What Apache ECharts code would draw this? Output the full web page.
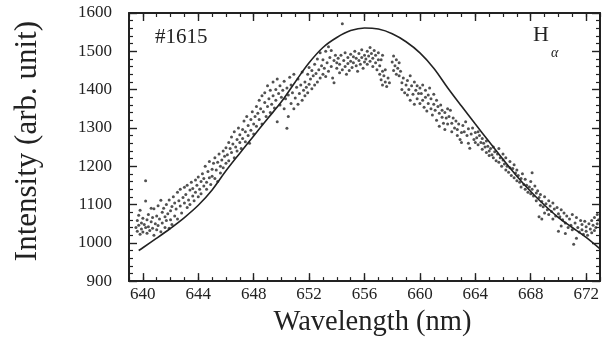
<!DOCTYPE html>
<html><head><meta charset="utf-8">
<script src="https://cdn.jsdelivr.net/npm/echarts@6/dist/echarts.min.js"></script>
<style>html,body{margin:0;padding:0;background:#fff}#c{width:612px;height:342px}</style>
</head><body><div id="c"></div>
<script>
const xTickValues = [640, 644, 648, 652, 656, 660, 664, 668, 672];
const xRange = [639, 673];
const yRange = [900, 1600];
const yStep = 100;
const labelShot = '#1615';
const labelLine = 'H';
const labelSub = 'α';

const curveWavelength = [639.7, 640, 641, 642, 643, 644, 645, 646, 647, 648, 649, 650, 651, 652, 653, 654, 655, 656, 657, 658, 659, 660, 661, 662, 663, 664, 665, 666, 667, 668, 669, 670, 671, 672, 673];
const curveIntensity  = [980, 987, 1012, 1038, 1066, 1098, 1138, 1188, 1234, 1279, 1324, 1368, 1420, 1470, 1510, 1536, 1554, 1561, 1558, 1546, 1525, 1496, 1456, 1405, 1357, 1310, 1264, 1218, 1174, 1134, 1098, 1066, 1040, 1014, 984];

const measured = [
[639.5,1040],[639.6,1058],[639.6,1030],[639.7,1072],[639.7,1046],[639.8,1022],[639.8,1085],[639.9,1052],[639.9,1036],[640.0,1064],[640.0,1028],[640.1,1048],[640.2,1162],[640.2,1109],[640.2,1040],[640.3,1060],[640.3,1025],[640.4,1074],[640.4,1042],[640.5,1032],[640.6,1055],[640.6,1090],[640.7,1038],[640.7,1066],[640.8,1089],[640.8,1020],[640.9,1050],[641.0,1070],[641.0,1034],
[641.1,1097],[641.1,1045],[641.2,1062],[641.3,1111],[641.3,1029],[641.4,1080],[641.4,1052],[641.5,1090],[641.6,1040],[641.6,1068],[641.7,1100],[641.7,1058],[641.8,1076],[641.9,1038],[641.9,1112],[642.0,1084],[642.0,1060],
[642.1,1095],[642.1,1048],[642.2,1120],[642.3,1070],[642.3,1104],[642.4,1088],[642.5,1132],[642.5,1062],[642.6,1110],[642.7,1096],[642.7,1140],[642.8,1078],[642.9,1118],[643.0,1104],[643.0,1145],
[643.1,1126],[643.2,1092],[643.2,1150],[643.3,1112],[643.4,1138],[643.4,1100],[643.5,1158],[643.6,1122],[643.6,1142],[643.7,1110],[643.8,1164],[643.8,1132],[643.9,1150],[644.0,1120],[644.0,1172],
[644.1,1140],[644.2,1160],[644.2,1128],[644.3,1180],[644.4,1148],[644.4,1168],[644.5,1200],[644.6,1158],[644.6,1140],[644.7,1186],[644.8,1170],[644.8,1212],[644.9,1152],[645.0,1192],[645.0,1174],
[645.1,1208],[645.2,1168],[645.2,1222],[645.3,1190],[645.4,1160],[645.4,1210],[645.5,1232],[645.6,1182],[645.6,1200],[645.7,1216],[645.8,1240],[645.8,1196],[645.9,1226],[646.0,1208],[646.0,1248],
[646.1,1230],[646.2,1262],[646.2,1214],[646.3,1246],[646.4,1276],[646.4,1236],[646.5,1258],[646.6,1222],[646.6,1290],[646.7,1250],[646.8,1270],[646.8,1240],[646.9,1300],[647.0,1262],[647.0,1282],
[647.1,1246],[647.2,1296],[647.2,1272],[647.3,1318],[647.4,1264],[647.4,1290],[647.5,1330],[647.6,1280],[647.6,1306],[647.7,1260],[647.8,1322],[647.8,1294],[647.9,1342],[648.0,1310],[648.0,1284],
[648.1,1330],[648.2,1356],[648.2,1304],[648.3,1338],[648.4,1372],[648.4,1322],[648.5,1350],[648.6,1384],[648.6,1310],[648.7,1342],[648.8,1366],[648.8,1392],[648.9,1330],[649.0,1356],[649.0,1410],
[649.1,1376],[649.2,1340],[649.2,1398],[649.3,1362],[649.4,1420],[649.4,1384],[649.5,1352],[649.6,1400],[649.6,1372],[649.7,1316],[649.7,1428],[649.8,1390],[649.9,1360],[649.9,1410],[650.0,1380],
[650.1,1398],[650.2,1350],[650.2,1422],[650.3,1376],[650.4,1299],[650.4,1404],[650.5,1330],[650.5,1386],[650.6,1432],[650.7,1364],[650.7,1412],[650.8,1392],[650.9,1350],[650.9,1440],[651.0,1378],
[651.1,1406],[651.2,1362],[651.2,1428],[651.3,1390],[651.4,1412],[651.5,1372],[651.5,1446],[651.6,1398],[651.7,1420],[651.7,1384],[651.8,1406],[651.9,1440],[651.9,1392],[652.0,1414],[652.0,1458],
[652.1,1428],[652.2,1402],[652.2,1450],[652.3,1436],[652.4,1412],[652.4,1466],[652.5,1442],[652.6,1420],[652.6,1480],[652.7,1452],[652.8,1430],[652.8,1496],[652.9,1462],[653.0,1440],[653.0,1478],
[653.1,1456],[653.2,1500],[653.2,1434],[653.3,1470],[653.4,1512],[653.4,1448],[653.5,1484],[653.6,1460],[653.6,1502],[653.7,1430],[653.8,1476],[653.8,1418],[653.9,1490],[654.0,1456],[654.0,1470],
[654.1,1482],[654.2,1444],[654.2,1466],[654.3,1490],[654.4,1572],[654.4,1452],[654.5,1476],[654.6,1496],[654.6,1460],[654.7,1440],[654.8,1484],[654.8,1468],[654.9,1450],[655.0,1492],[655.0,1474],
[655.1,1458],[655.2,1486],[655.2,1470],[655.3,1500],[655.4,1462],[655.4,1482],[655.5,1448],[655.6,1494],[655.6,1476],[655.7,1466],[655.8,1504],[655.8,1484],[655.9,1456],[656.0,1490],[656.0,1472],
[656.1,1480],[656.2,1500],[656.2,1466],[656.3,1488],[656.4,1510],[656.4,1474],[656.5,1494],[656.6,1460],[656.6,1482],[656.7,1502],[656.8,1470],[656.8,1490],[656.9,1452],[657.0,1478],[657.0,1496],
[657.1,1440],[657.1,1462],[657.2,1426],[657.2,1478],[657.3,1448],[657.3,1490],[657.3,1412],[657.4,1436],[657.5,1420],[657.5,1452],[657.6,1408],[657.7,1430],[657.8,1418],
[658.0,1472],[658.1,1488],[658.1,1450],[658.2,1462],[658.3,1478],[658.3,1440],[658.4,1456],[658.5,1470],[658.5,1436],[658.6,1448],[658.7,1418],[658.7,1400],[658.8,1430],[658.9,1392],[659.0,1412],
[659.1,1386],[659.1,1424],[659.2,1400],[659.3,1372],[659.3,1436],[659.4,1410],[659.5,1388],[659.6,1362],[659.6,1420],[659.7,1398],[659.8,1376],[659.8,1410],[659.9,1390],[660.0,1404],[660.0,1364],
[660.1,1390],[660.2,1372],[660.2,1412],[660.3,1354],[660.4,1398],[660.4,1380],[660.5,1344],[660.6,1386],[660.6,1364],[660.7,1404],[660.8,1350],[660.8,1376],[660.9,1334],[661.0,1362],[661.0,1388],
[661.1,1346],[661.2,1372],[661.2,1320],[661.3,1356],[661.4,1338],[661.4,1304],[661.5,1360],[661.6,1328],[661.6,1346],[661.7,1312],[661.8,1340],[661.8,1296],[661.9,1326],[662.0,1350],[662.0,1310],
[662.1,1330],[662.2,1346],[662.3,1312],[662.3,1290],[662.4,1326],[662.5,1300],[662.6,1318],[662.7,1280],[662.7,1296],[662.8,1310],[662.9,1270],[663.0,1288],[663.0,1262],
[663.1,1306],[663.2,1290],[663.3,1316],[663.4,1280],[663.5,1260],[663.5,1298],[663.6,1247],[663.7,1284],[663.8,1300],[663.9,1270],[664.0,1288],[664.0,1262],
[664.1,1274],[664.2,1290],[664.2,1256],[664.3,1280],[664.4,1262],[664.5,1272],[664.5,1244],[664.6,1260],[664.7,1250],[664.8,1266],[664.8,1236],[664.9,1252],[665.0,1240],[665.0,1228],
[665.1,1246],[665.2,1230],[665.3,1250],[665.3,1222],[665.4,1238],[665.5,1214],[665.6,1232],[665.7,1210],[665.7,1246],[665.8,1222],[665.9,1200],[666.0,1216],[666.0,1232],
[666.1,1206],[666.2,1190],[666.2,1222],[666.3,1200],[666.4,1184],[666.5,1212],[666.5,1196],[666.6,1176],[666.7,1194],[666.8,1170],[666.8,1204],[666.9,1182],[667.0,1162],[667.0,1190],
[667.1,1176],[667.2,1158],[667.3,1168],[667.3,1146],[667.4,1180],[667.5,1152],[667.6,1140],[667.6,1166],[667.7,1150],[667.8,1132],[667.9,1146],[668.0,1160],[668.0,1128],
[668.1,1183],[668.1,1140],[668.2,1122],[668.3,1148],[668.4,1130],[668.4,1110],[668.5,1136],[668.6,1118],[668.6,1068],[668.7,1098],[668.7,1126],[668.8,1108],[668.8,1062],[668.9,1094],[669.0,1120],[669.0,1078],
[669.1,1102],[669.2,1086],[669.3,1110],[669.3,1074],[669.4,1096],[669.5,1082],[669.6,1062],[669.6,1104],[669.7,1088],[669.8,1070],[669.9,1092],[670.0,1076],[670.0,1030],
[670.1,1068],[670.2,1086],[670.2,1044],[670.3,1060],[670.4,1078],[670.5,1024],[670.5,1052],[670.6,1070],[670.7,1040],[670.8,1062],[670.9,1046],[671.0,1074],[671.0,1034],
[671.1,996],[671.2,1052],[671.3,1012],[671.3,1066],[671.4,1040],[671.5,1028],[671.6,1058],[671.7,1034],[671.7,1048],[671.8,1022],[671.9,1056],[672.0,1030],[672.0,1042],
[672.1,1020],[672.2,1050],[672.3,1036],[672.4,1058],[672.4,1026],[672.5,1046],[672.6,1066],[672.6,1032],[672.7,1040],[672.8,1074],[672.8,1050],[672.9,1060]
];

const font = '"Liberation Serif", "Times New Roman", serif';
const ink = '#222';
const frame = { show: true, onZero: false, lineStyle: { color: ink, width: 2 } };
const noSplit = { show: false };
const plain = v => String(v);

function xAxisPair(position, withLabels) {
  const major = {
    type: 'value', min: xRange[0], max: xRange[1], position: position,
    axisLine: frame, splitLine: noSplit,
    axisTick: { show: true, inside: true, length: 8, customValues: xTickValues, lineStyle: { color: ink, width: 1.4 } },
    axisLabel: withLabels ? { show: true, customValues: xTickValues, formatter: plain, fontFamily: font, fontSize: 17, color: ink, margin: 5 } : { show: false }
  };
  if (withLabels) {
    major.name = 'Wavelength (nm)';
    major.nameLocation = 'middle';
    major.nameGap = 21;
    major.nameTextStyle = { fontFamily: font, fontSize: 28.5, color: ink, padding: [0, 0, 0, 16] };
  }
  const minor = {
    type: 'value', min: xRange[0], max: xRange[1], interval: 1, position: position,
    axisLine: { show: false }, splitLine: noSplit, axisLabel: { show: false },
    axisTick: { show: true, inside: true, length: 4, lineStyle: { color: ink, width: 1.2 } }
  };
  return [major, minor];
}

function yAxisOne(position, withLabels) {
  const ax = {
    type: 'value', min: yRange[0], max: yRange[1], interval: yStep, position: position,
    axisLine: frame, splitLine: noSplit,
    axisTick: { show: true, inside: true, length: 8, lineStyle: { color: ink, width: 1.4 } },
    minorTick: { show: true, splitNumber: 5, length: 4, lineStyle: { color: ink, width: 1.2 } },
    axisLabel: withLabels ? { show: true, formatter: plain, fontFamily: font, fontSize: 17, color: ink, margin: 17 } : { show: false }
  };
  if (withLabels) {
    ax.name = 'Intensity (arb. unit)';
    ax.nameLocation = 'middle';
    ax.nameGap = 86;
    ax.nameTextStyle = { fontFamily: font, fontSize: 31, color: ink, padding: [0, 0, 0, 12] };
  }
  return ax;
}

const chart = echarts.init(document.getElementById('c'), null, { renderer: 'canvas' });
chart.setOption({
  animation: false,
  backgroundColor: '#fff',
  grid: { left: 129, right: 12, top: 13, bottom: 57 },
  xAxis: [].concat(xAxisPair('bottom', true), xAxisPair('top', false)),
  yAxis: [yAxisOne('left', true), yAxisOne('right', false)],
  series: [
    { type: 'scatter', xAxisIndex: 0, yAxisIndex: 0, data: measured, symbol: 'circle', symbolSize: 3,
      itemStyle: { color: '#262626' }, silent: true },
    { type: 'line', xAxisIndex: 0, yAxisIndex: 0, data: curveWavelength.map((w, i) => [w, curveIntensity[i]]),
      showSymbol: false, smooth: 0.35, lineStyle: { color: ink, width: 1.6 }, silent: true }
  ],
  graphic: [
    { type: 'text', left: 155, top: 27, style: { text: labelShot, font: '21px ' + font, fill: ink } },
    { type: 'text', left: 533, top: 24, style: { text: labelLine, font: '22px ' + font, fill: ink } },
    { type: 'text', left: 551, top: 46, style: { text: labelSub, font: 'italic 14px ' + font, fill: ink } }
  ]
});
</script>
</body></html>
